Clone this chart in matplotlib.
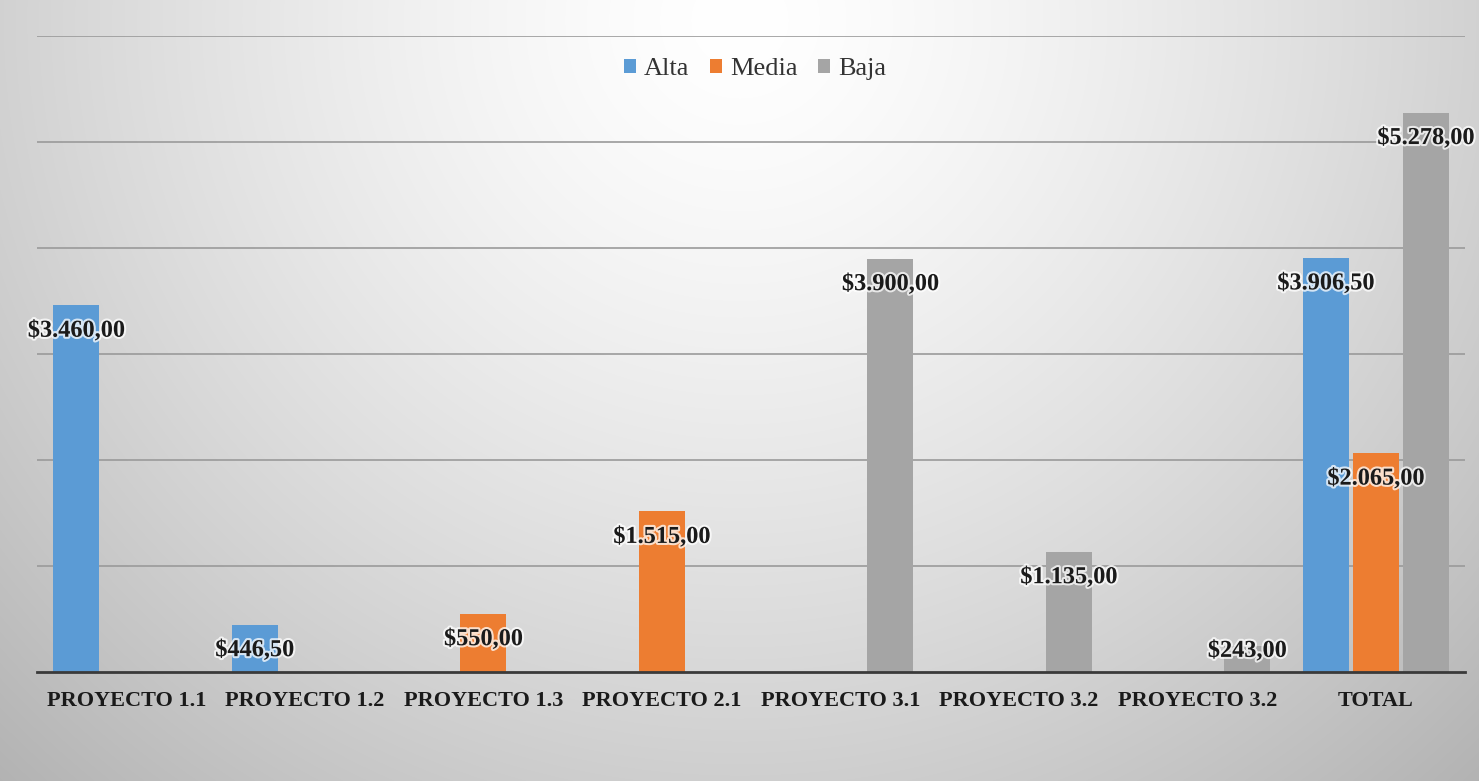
import numpy as np
import matplotlib
matplotlib.use("Agg")
import matplotlib.pyplot as plt
import matplotlib.patheffects as pe

categories = ["PROYECTO 1.1", "PROYECTO 1.2", "PROYECTO 1.3", "PROYECTO 2.1",
              "PROYECTO 3.1", "PROYECTO 3.2", "PROYECTO 3.2", "TOTAL"]
alta = [3460.00, 446.50, 0, 0, 0, 0, 0, 3906.50]
media = [0, 0, 550.00, 1515.00, 0, 0, 0, 2065.00]
baja = [0, 0, 0, 0, 3900.00, 1135.00, 243.00, 5278.00]
series_names = ["Alta", "Media", "Baja"]
series_colors = ["#5B9BD5", "#ED7D31", "#A5A5A5"]

def fmt(v):
    s = f"{v:,.2f}"
    s = s.replace(",", "X").replace(".", ",").replace("X", ".")
    return "$" + s

W, H = 1479, 781
fig = plt.figure(figsize=(W / 100, H / 100), dpi=100)

# radial background: white near the top centre, grey towards the edges
bg = fig.add_axes([0, 0, 1, 1], zorder=-10)
yy, xx = np.mgrid[0:H, 0:W]
r = np.sqrt(((xx - W * 0.5) / (W * 0.62)) ** 2 + ((yy - 20) / (H * 1.15)) ** 2)
shade = 1.0 - 0.24 * np.clip(r, 0, 1.2) ** 1.4
bg.imshow(np.dstack([shade] * 3), extent=[0, 1, 0, 1], aspect="auto", origin="upper")
bg.axis("off")

ax = fig.add_axes([37 / W, 1 - 672 / H, (1465 - 37) / W, (672 - 36) / H])
ax.set_facecolor("none")

x = np.arange(len(categories))
width = 0.26
step = 0.28
serif = ["Liberation Serif", "DejaVu Serif"]

for i, (vals, name, col) in enumerate(zip([alta, media, baja], series_names, series_colors)):
    xs = x + (i - 1) * step
    ax.bar(xs, vals, width, color=col, label=name, zorder=3)
    for xi, v in zip(xs, vals):
        if v <= 0:
            continue
        ypos = max(v - 245, 195)
        ax.text(xi, ypos, fmt(v), ha="center", va="center", fontsize=17.5,
                fontweight="bold", family=serif, color="#1a1a1a", zorder=5,
                path_effects=[pe.withStroke(linewidth=3, foreground="white", alpha=0.75)])

ax.set_xlim(-0.5, len(categories) - 0.5)
ax.set_ylim(0, 6000)
ax.set_yticks(np.arange(1000, 6001, 1000))
ax.yaxis.grid(True, color="#9a9a9a", linewidth=1.2, zorder=0)
ax.tick_params(axis="y", left=False, labelleft=False)
ax.tick_params(axis="x", bottom=False, pad=10)
ax.set_xticks(x)
ax.set_xticklabels(categories, fontsize=16, fontweight="bold", family=serif, color="#1a1a1a")
for s in ["left", "right", "top"]:
    ax.spines[s].set_visible(False)
ax.spines["bottom"].set_color("#3a3a3a")
ax.spines["bottom"].set_linewidth(2)
ax.spines["bottom"].set_zorder(4)

leg = fig.legend(loc="center", bbox_to_anchor=(755 / W, 1 - 69 / H), ncol=3, frameon=False,
                 prop={"family": serif, "size": 19}, handlelength=0.45, handleheight=0.45,
                 handletextpad=0.3, columnspacing=0.8)
for t in leg.get_texts():
    t.set_color("#333333")

fig.savefig("out.png", dpi=100)
